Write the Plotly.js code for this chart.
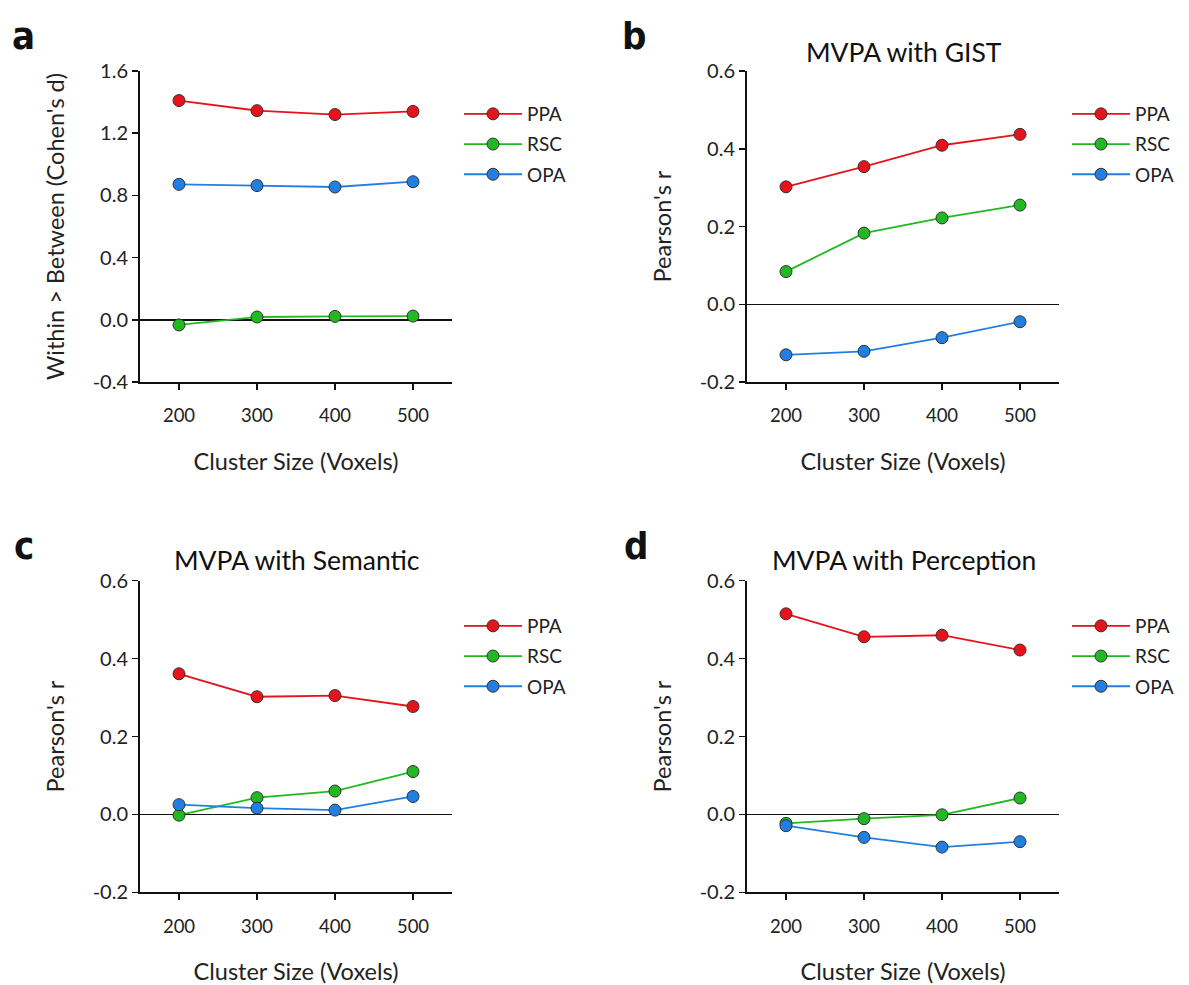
<!DOCTYPE html>
<html>
<head>
<meta charset="utf-8">
<script src="https://cdn.plot.ly/plotly-3.0.1.min.js"></script>
<style>html,body{margin:0;padding:0;background:#fff;}#chart{width:1189px;height:985px;}</style>
</head>
<body>
<div id="chart"></div>
<script>
// ---- data ----
const clusterSizes = [200, 300, 400, 500];
const seriesNames = ['PPA', 'RSC', 'OPA'];

const a_PPA = [1.41, 1.345, 1.32, 1.34];
const a_RSC = [-0.033, 0.018, 0.022, 0.024];
const a_OPA = [0.871, 0.863, 0.854, 0.888];

const b_PPA = [0.302, 0.354, 0.409, 0.437];
const b_RSC = [0.084, 0.183, 0.222, 0.255];
const b_OPA = [-0.130, -0.121, -0.086, -0.045];

const c_PPA = [0.361, 0.302, 0.305, 0.277];
const c_RSC = [-0.002, 0.043, 0.060, 0.110];
const c_OPA = [0.025, 0.016, 0.011, 0.046];

const d_PPA = [0.515, 0.456, 0.460, 0.422];
const d_RSC = [-0.023, -0.011, -0.001, 0.042];
const d_OPA = [-0.029, -0.059, -0.084, -0.070];

const panelLetters = ['a', 'b', 'c', 'd'];
const panelTitles = ['', 'MVPA with GIST', 'MVPA with Semantic', 'MVPA with Perception'];
const yTitles = ["Within > Between (Cohen's d)", "Pearson's r", "Pearson's r", "Pearson's r"];
const xTitle = 'Cluster Size (Voxels)';

const yTicksA = [-0.4, 0.0, 0.4, 0.8, 1.2, 1.6];
const yTickTextA = ['-0.4', '0.0', '0.4', '0.8', '1.2', '1.6'];
const yTicksR = [-0.2, 0.0, 0.2, 0.4, 0.6];
const yTickTextR = ['-0.2', '0.0', '0.2', '0.4', '0.6'];

// ---- styling ----
const FONT = 'Lato, "Open Sans", sans-serif';
const LETTER_FONT = '"Liberation Sans Narrow", "DejaVu Sans Condensed", "Liberation Sans", sans-serif';
const colors = {PPA: '#e8121b', RSC: '#22b822', OPA: '#217fe3'};
const panelData = [
  [a_PPA, a_RSC, a_OPA],
  [b_PPA, b_RSC, b_OPA],
  [c_PPA, c_RSC, c_OPA],
  [d_PPA, d_RSC, d_OPA]
];

const W = 1189, H = 985;
const px = v => v / W, py = v => 1 - v / H;
const xDom = [[140, 452], [747, 1059], [140, 452], [747, 1059]];
const yDom = [[71, 382], [71, 382], [580.7, 892.3], [580.7, 892.3]];
const legendPos = [[459, 95], [1067, 95], [459, 607], [1067, 607]];
const letterPos = [[10, 35.6], [620, 35.6], [12, 545.6], [622, 545.6]];

const traces = [];
panelData.forEach((series, p) => {
  series.forEach((vals, s) => {
    const name = seriesNames[s];
    traces.push({
      x: clusterSizes, y: vals, name: name,
      type: 'scatter', mode: 'lines+markers',
      xaxis: p === 0 ? 'x' : 'x' + (p + 1),
      yaxis: p === 0 ? 'y' : 'y' + (p + 1),
      legend: p === 0 ? 'legend' : 'legend' + (p + 1),
      legendgroup: 'g' + p + s,
      line: {color: colors[name], width: 1.8},
      marker: {color: colors[name], size: 12, line: {color: '#333', width: 1}}
    });
  });
});

const layout = {
  width: W, height: H,
  margin: {l: 0, r: 0, t: 0, b: 0},
  paper_bgcolor: '#fff', plot_bgcolor: 'rgba(0,0,0,0)',
  font: {family: FONT, color: '#222', size: 18},
  showlegend: true,
  annotations: []
};

for (let p = 0; p < 4; p++) {
  const sx = p === 0 ? '' : String(p + 1);
  const isA = p === 0;
  layout['xaxis' + sx] = {
    domain: [px(xDom[p][0]), px(xDom[p][1])],
    anchor: 'y' + sx,
    range: [150, 550],
    tickvals: clusterSizes, ticktext: clusterSizes.map(String),
    ticks: 'outside', ticklen: 6, tickwidth: 1.5, tickcolor: '#111',
    ticklabelstandoff: 10,
    showline: true, linecolor: '#111', linewidth: 2,
    showgrid: false, zeroline: false,
    tickfont: {family: FONT, size: 18.5, color: '#222'},
    title: {text: xTitle, font: {family: FONT, size: 23.5, color: '#222'}, standoff: 28},
    automargin: false, fixedrange: true
  };
  layout['yaxis' + sx] = {
    domain: [py(yDom[p][1]), py(yDom[p][0])],
    anchor: 'x' + sx,
    range: isA ? [-0.4, 1.6] : [-0.2, 0.6],
    tickvals: isA ? yTicksA : yTicksR,
    ticktext: isA ? yTickTextA : yTickTextR,
    ticks: 'outside', ticklen: 6, tickwidth: 1.5, tickcolor: '#111',
    showline: true, linecolor: '#111', linewidth: 2,
    showgrid: false, zeroline: true, zerolinecolor: '#111', zerolinewidth: 1.5,
    tickfont: {family: FONT, size: 20, color: '#222'},
    title: {text: yTitles[p], font: {family: FONT, size: 23.5, color: '#222'}, standoff: 21.5},
    automargin: false, fixedrange: true
  };
  const lg = {
    x: px(legendPos[p][0]), y: py(legendPos[p][1]),
    xanchor: 'left', yanchor: 'top',
    bgcolor: 'rgba(0,0,0,0)', borderwidth: 0,
    font: {family: FONT, size: 19, color: '#222'},
    tracegroupgap: 2.5, itemwidth: 58
  };
  layout[p === 0 ? 'legend' : 'legend' + (p + 1)] = lg;

  // panel letter
  layout.annotations.push({
    text: '<b>' + panelLetters[p] + '</b>', showarrow: false,
    xref: 'paper', yref: 'paper',
    x: px(letterPos[p][0]), y: py(letterPos[p][1]),
    xanchor: 'left', yanchor: 'middle',
    font: {family: LETTER_FONT, size: 38, color: '#111'}
  });
  if (panelTitles[p]) {
    layout.annotations.push({
      text: panelTitles[p], showarrow: false,
      xref: 'paper', yref: 'paper',
      x: px((xDom[p][0] + xDom[p][1]) / 2 + 1), y: py(p < 2 ? 51.5 : 559.5),
      xanchor: 'center', yanchor: 'middle',
      font: {family: FONT, size: 26.5, color: '#111'}
    });
  }
}

Plotly.newPlot('chart', traces, layout, {staticPlot: true, displayModeBar: false});
</script>
</body>
</html>
